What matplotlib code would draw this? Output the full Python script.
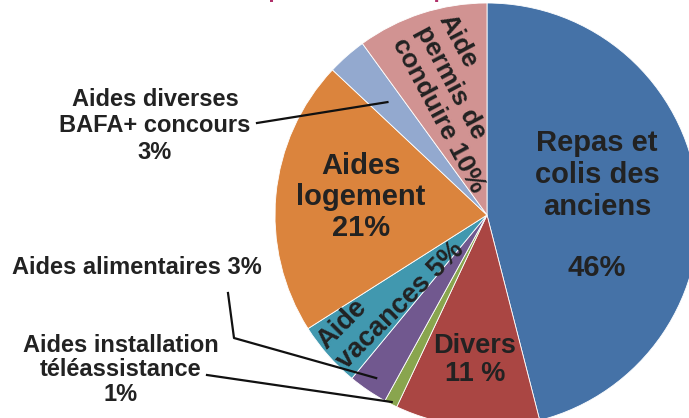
import numpy as np
import matplotlib
matplotlib.use("Agg")
import matplotlib.pyplot as plt

plt.rcParams['font.family'] = ['Liberation Sans', 'DejaVu Sans']

# ---- data ----
categories = ["Repas et colis des anciens", "Divers", "Aides installation téléassistance",
              "Aides alimentaires", "Aide vacances", "Aides logement",
              "Aides diverses BAFA+ concours", "Aide permis de conduire"]
values = [46, 11, 1, 3, 5, 21, 3, 10]
colors = ["#4572A7", "#AA4643", "#89A54E", "#71588F", "#4198AF", "#DB843D", "#93A9CF", "#D19392"]

W, H = 689, 418
fig = plt.figure(figsize=(W / 100, H / 100), dpi=100)
ax = fig.add_axes([0, 0, 1, 1])

def Y(y):
    return H - y

cx, cy, R = 487, Y(215), 212
wedges, _ = ax.pie(values, colors=colors, startangle=90, counterclock=False,
                   center=(cx, cy), radius=R, frame=True,
                   wedgeprops=dict(edgecolor='white', linewidth=0.6))
ax.set_xlim(0, W)
ax.set_ylim(0, H)
ax.set_aspect('equal')
ax.axis('off')

tc = '#222222'
big = dict(fontsize=21, fontweight='bold', color=tc, ha='center', va='center', linespacing=1.17)
ax.text(597, Y(175), "Repas et\ncolis des\nanciens", **big)
ax.text(597, Y(268), "46%", **big)
ax.text(361, Y(197), "Aides\nlogement\n21%", **dict(big, linespacing=1.13))
ax.text(475, Y(360), "Divers\n11 %", **dict(big, fontsize=19.5, linespacing=1.1))

rot = dict(fontsize=19.5, fontweight='bold', color=tc, ha='left', va='top',
           linespacing=1.1, rotation_mode='anchor', multialignment='left')
ax.text(312, Y(336), "Aide\nvacances 5%", rotation=45, **rot)
ax.text(455, Y(10), "Aide\npermis de\nconduire 10%", rotation=-62, **dict(rot, fontsize=19))

small = dict(fontsize=17, fontweight='bold', color=tc, ha='center', va='center', linespacing=1.2)
ax.text(155, Y(126), "Aides diverses\nBAFA+ concours\n3%", **small)
ax.text(137, Y(268), "Aides alimentaires 3%", **small)
ax.text(121, Y(370), "Aides installation\ntéléassistance\n1%", **dict(small, linespacing=1.08))

def edge_point(w, frac):
    th = np.deg2rad((w.theta1 + w.theta2) / 2)
    return cx + frac * R * np.cos(th), cy + frac * R * np.sin(th)

# leader lines
x1, y1 = edge_point(wedges[6], 0.71)
ax.plot([257, x1], [Y(123), y1], color='#111111', lw=1.6)
x2, y2 = edge_point(wedges[3], 0.93)
ax.plot([228, 234, x2], [Y(293), Y(338), y2], color='#111111', lw=1.6)
x3, y3 = edge_point(wedges[2], 0.99)
ax.plot([207, x3], [Y(375), y3], color='#111111', lw=1.6)

# title, cut off at the top edge as in the source image
ax.text(490, Y(-3), "Répartition des dépenses d'aides sociales 2013", fontsize=16,
        fontweight='bold', color='#B0306A', ha='center', va='baseline', clip_on=False)

fig.savefig("out.png", dpi=100)
